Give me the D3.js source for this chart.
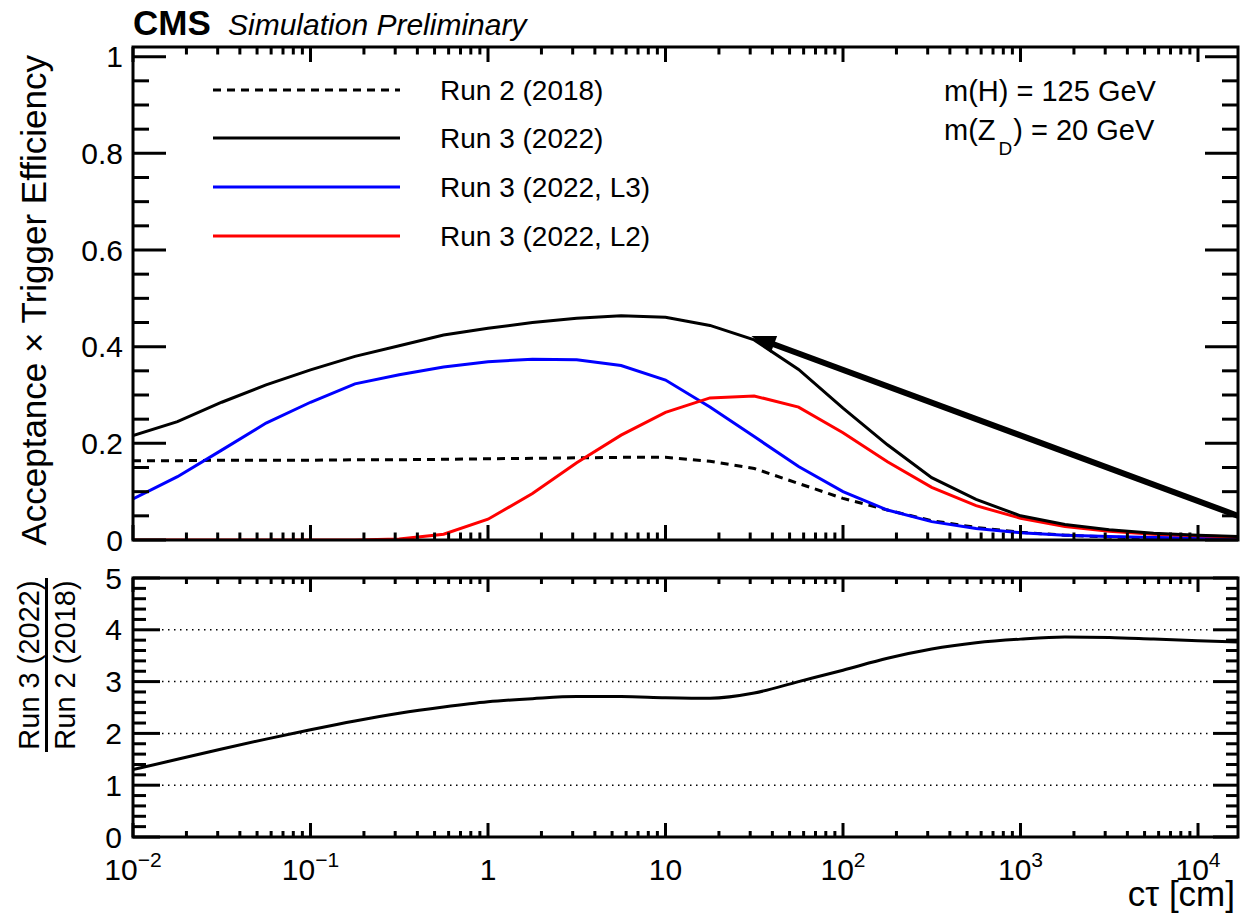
<!DOCTYPE html>
<html><head><meta charset="utf-8">
<script src="https://cdn.jsdelivr.net/npm/d3@7/dist/d3.min.js"></script>
<style>
body{margin:0;background:#fff}
svg text{font-family:"Liberation Sans",Arial,Helvetica,sans-serif;fill:#000}
</style>
</head><body>
<svg id="c" width="1241" height="919"></svg>
<script>
// ---- data ----
const ctau   = [0.01, 0.0178, 0.0316, 0.0562, 0.1, 0.178, 0.316, 0.562, 1, 1.78, 3.16, 5.62, 10, 17.8, 31.6, 56.2, 100, 178, 316, 562, 1000, 1780, 3160, 5620, 10000, 17800];
const run2   = [0.164, 0.164, 0.165, 0.165, 0.165, 0.166, 0.166, 0.167, 0.168, 0.169, 0.170, 0.171, 0.171, 0.163, 0.148, 0.117, 0.086, 0.062, 0.040, 0.026, 0.016, 0.010, 0.006, 0.004, 0.003, 0.002];
const run3   = [0.216, 0.245, 0.285, 0.321, 0.352, 0.380, 0.402, 0.424, 0.438, 0.450, 0.459, 0.464, 0.461, 0.444, 0.414, 0.353, 0.273, 0.197, 0.129, 0.084, 0.050, 0.032, 0.021, 0.014, 0.010, 0.007];
const run3L3 = [0.085, 0.131, 0.186, 0.242, 0.285, 0.323, 0.342, 0.358, 0.369, 0.374, 0.373, 0.361, 0.331, 0.275, 0.214, 0.152, 0.100, 0.062, 0.038, 0.024, 0.015, 0.010, 0.007, 0.005, 0.004, 0.003];
const run3L2 = [0.000, 0.000, 0.000, 0.000, 0.000, 0.000, 0.002, 0.012, 0.043, 0.096, 0.160, 0.217, 0.264, 0.294, 0.298, 0.275, 0.222, 0.162, 0.109, 0.071, 0.045, 0.028, 0.018, 0.012, 0.009, 0.006];
const ratio  = [1.30, 1.50, 1.70, 1.89, 2.07, 2.24, 2.39, 2.51, 2.61, 2.67, 2.71, 2.71, 2.69, 2.68, 2.78, 3.00, 3.22, 3.45, 3.63, 3.75, 3.82, 3.86, 3.85, 3.82, 3.79, 3.76];

const legendLabels = ["Run 2 (2018)", "Run 3 (2022)", "Run 3 (2022, L3)", "Run 3 (2022, L2)"];
const xTickValues = [0.01, 0.1, 1, 10, 100, 1000, 10000];
const xTickBase   = ["10", "10", "1", "10", "10", "10", "10"];
const xTickExp    = ["\u22122", "\u22121", "", "", "2", "3", "4"];
const topYTicks   = [0, 0.2, 0.4, 0.6, 0.8, 1];
const topYLabels  = ["0", "0.2", "0.4", "0.6", "0.8", "1"];
const botYTicks   = [0, 1, 2, 3, 4, 5];
const botYLabels  = ["0", "1", "2", "3", "4", "5"];
const gridLevels  = [1, 2, 3, 4];
const arrowFrom = [16800, 0.05];
const arrowTo   = [30.5, 0.422];

// ---- layout ----
const L = 133, R = 1238, T1 = 47, B1 = 540, T2 = 578, B2 = 837;
const svg = d3.select("#c");
const x  = d3.scaleLog().domain([0.01, 16800]).range([L, R]);
const y1 = d3.scaleLinear().domain([0, 1.02]).range([B1, T1]);
const y2 = d3.scaleLinear().domain([0, 5]).range([B2, T2]);

const defs = svg.append("defs");
defs.append("clipPath").attr("id", "clipTop").append("rect")
  .attr("x", L).attr("y", T1).attr("width", R - L).attr("height", B1 - T1);
defs.append("clipPath").attr("id", "clipBot").append("rect")
  .attr("x", L).attr("y", T2).attr("width", R - L).attr("height", B2 - T2);

// x ticks (log)
const xMinor = [];
for (let e = -2; e <= 4; e++) for (let m = 1; m <= 9; m++) {
  const v = m * Math.pow(10, e);
  if (v >= 0.01 && v <= 16800) xMinor.push({v, major: m === 1});
}

function xTicks(g, top, bot, majL, minL) {
  xMinor.forEach(t => {
    const len = t.major ? majL : minL, px = x(t.v);
    g.append("line").attr("x1", px).attr("x2", px).attr("y1", bot).attr("y2", bot - len);
    g.append("line").attr("x1", px).attr("x2", px).attr("y1", top).attr("y2", top + len);
  });
}
function yTicks(g, scale, vals, majorSet, majL, minL, majR, minR) {
  vals.forEach(v => {
    const major = majorSet(v), py = scale(v);
    g.append("line").attr("x1", L).attr("x2", L + (major ? majL : minL)).attr("y1", py).attr("y2", py);
    g.append("line").attr("x1", R).attr("x2", R - (major ? majR : minR)).attr("y1", py).attr("y2", py);
  });
}

// ---- top panel curves ----
const line1 = d3.line().x(d => x(d[0])).y(d => y1(d[1]));
const curves = svg.append("g").attr("clip-path", "url(#clipTop)").attr("fill", "none");
curves.append("path").datum(ctau.map((c, i) => [c, run2[i]])).attr("d", line1)
  .attr("stroke", "#000").attr("stroke-width", 3).attr("stroke-dasharray", "8,6");
curves.append("path").datum(ctau.map((c, i) => [c, run3L3[i]])).attr("d", line1)
  .attr("stroke", "#0000ff").attr("stroke-width", 3);
curves.append("path").datum(ctau.map((c, i) => [c, run3L2[i]])).attr("d", line1)
  .attr("stroke", "#ff0000").attr("stroke-width", 3);
curves.append("path").datum(ctau.map((c, i) => [c, run3[i]])).attr("d", line1)
  .attr("stroke", "#000").attr("stroke-width", 3);

// arrow
{
  const x0 = x(arrowFrom[0]), yA = y1(arrowFrom[1]), xt = x(arrowTo[0]), yt = y1(arrowTo[1]);
  const dx = xt - x0, dy = yt - yA, len = Math.hypot(dx, dy), ux = dx / len, uy = dy / len;
  const hl = 24, hw = 9;
  const bx = xt - ux * hl, by = yt - uy * hl;
  const ag = svg.append("g").attr("clip-path", "url(#clipTop)");
  ag.append("line").attr("x1", x0 + ux * -10).attr("y1", yA + uy * -10).attr("x2", bx + ux * 4).attr("y2", by + uy * 4)
    .attr("stroke", "#000").attr("stroke-width", 6);
  ag.append("polygon").attr("points", [[xt, yt], [bx - uy * hw, by + ux * hw], [bx + uy * hw, by - ux * hw]].map(p => p.join(",")).join(" "))
    .attr("fill", "#000");
}

// top frame and ticks
const f1 = svg.append("g").attr("stroke", "#000").attr("stroke-width", 3).attr("fill", "none");
f1.append("rect").attr("x", L).attr("y", T1).attr("width", R - L).attr("height", B1 - T1);
xTicks(f1, T1, B1, 15, 7.5);
yTicks(f1, y1, d3.range(0, 1.0001, 0.05), v => Math.abs(v / 0.2 - Math.round(v / 0.2)) < 1e-6, 33, 16, 33, 16);

// top y labels
svg.append("g").selectAll("text").data(topYTicks).join("text")
  .attr("x", 123).attr("y", d => y1(d) + 10.5).attr("text-anchor", "end")
  .style("font-size", "30px").text((d, i) => topYLabels[i]);

// legend
const legY = [90, 138, 187, 236];
const legStyles = [
  {c: "#000", dash: "8,6"}, {c: "#000", dash: null}, {c: "#0000ff", dash: null}, {c: "#ff0000", dash: null}
];
legendLabels.forEach((lab, i) => {
  const l = svg.append("line").attr("x1", 213).attr("x2", 400).attr("y1", legY[i]).attr("y2", legY[i])
    .attr("stroke", legStyles[i].c).attr("stroke-width", 3);
  if (legStyles[i].dash) l.attr("stroke-dasharray", legStyles[i].dash);
  svg.append("text").attr("x", 440).attr("y", legY[i] + 10).style("font-size", "28px").text(lab);
});

// mass annotation
svg.append("text").attr("x", 944).attr("y", 101).style("font-size", "29px").text("m(H) = 125 GeV");
{
  const t = svg.append("text").attr("x", 944).attr("y", 140).style("font-size", "29px");
  t.append("tspan").text("m(Z");
  t.append("tspan").attr("dx", 3).attr("dy", 15).style("font-size", "19px").text("D");
  t.append("tspan").attr("dx", 1).attr("dy", -15).text(") = 20 GeV");
}

// CMS label
svg.append("text").attr("x", 133).attr("y", 35).style("font-size", "35px").style("font-weight", "bold").text("CMS");
svg.append("text").attr("x", 228).attr("y", 35).style("font-size", "30px").style("font-style", "italic").text("Simulation Preliminary");

// y title top
svg.append("text").attr("transform", "translate(46,55) rotate(-90)").attr("text-anchor", "end")
  .style("font-size", "35px").text("Acceptance \u00d7 Trigger Efficiency");

// ---- bottom panel ----
const grid = svg.append("g").attr("stroke", "#000").attr("stroke-width", 1.5).attr("stroke-dasharray", "1.5,4.5");
gridLevels.forEach(v => grid.append("line").attr("x1", 162).attr("x2", 1212).attr("y1", y2(v)).attr("y2", y2(v)));

const line2 = d3.line().x(d => x(d[0])).y(d => y2(d[1])).curve(d3.curveMonotoneX);
svg.append("g").attr("clip-path", "url(#clipBot)").append("path")
  .datum(ctau.map((c, i) => [c, ratio[i]])).attr("d", line2)
  .attr("fill", "none").attr("stroke", "#000").attr("stroke-width", 3);

const f2 = svg.append("g").attr("stroke", "#000").attr("stroke-width", 3).attr("fill", "none");
f2.append("rect").attr("x", L).attr("y", T2).attr("width", R - L).attr("height", B2 - T2);
xTicks(f2, T2, B2, 14, 6);
yTicks(f2, y2, d3.range(0, 5.0001, 0.2), v => Math.abs(v - Math.round(v)) < 1e-6, 27, 13, 25, 12);

svg.append("g").selectAll("text").data(botYTicks).join("text")
  .attr("x", 122).attr("y", d => y2(d) + 10.5).attr("text-anchor", "end")
  .style("font-size", "30px").text((d, i) => botYLabels[i]);

// x labels
xTickValues.forEach((v, i) => {
  const t = svg.append("text").attr("x", x(v)).attr("y", 880).attr("text-anchor", "middle").style("font-size", "30px");
  t.append("tspan").text(xTickBase[i]);
  if (xTickExp[i]) t.append("tspan").attr("dy", -13).style("font-size", "21px").text(xTickExp[i]);
});

// x title
svg.append("text").attr("x", 1235).attr("y", 906).attr("text-anchor", "end").style("font-size", "35px").text("c\u03c4 [cm]");

// bottom y title (fraction)
svg.append("text").attr("transform", "translate(39,665) rotate(-90)").attr("text-anchor", "middle")
  .style("font-size", "29px").text("Run 3 (2022)");
svg.append("text").attr("transform", "translate(75,665) rotate(-90)").attr("text-anchor", "middle")
  .style("font-size", "29px").text("Run 2 (2018)");
svg.append("line").attr("x1", 46.5).attr("x2", 46.5).attr("y1", 578).attr("y2", 752)
  .attr("stroke", "#000").attr("stroke-width", 3);
</script>
</body></html>
